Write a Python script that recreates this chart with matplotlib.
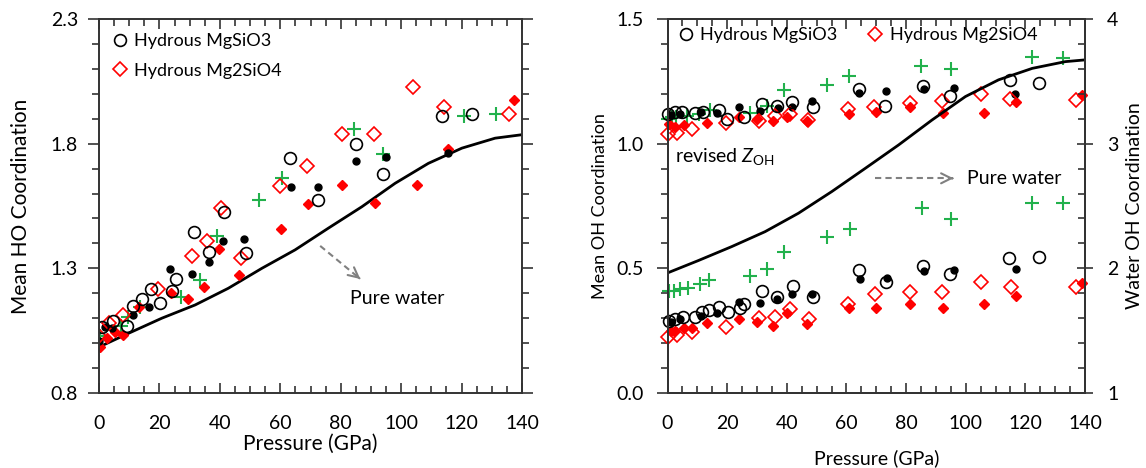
import matplotlib
matplotlib.use("Agg")
import matplotlib.pyplot as plt
from matplotlib.ticker import MultipleLocator, FixedLocator, FormatStrFormatter
from matplotlib.lines import Line2D
import numpy as np

plt.rcParams['font.family'] = ['Lato', 'DejaVu Sans']
plt.rcParams['mathtext.fontset'] = 'custom'
plt.rcParams['mathtext.rm'] = 'Lato'
plt.rcParams['mathtext.it'] = 'Lato:italic'

GREEN = '#22b14c'
RED = '#ff0000'

# ---------------- left panel: mean HO coordination ----------------
ho_circ_open_x = [0.9, 4.7, 9.2, 11.4, 14.1, 17.2, 20.2, 24.0, 25.4, 31.3, 36.4, 41.4, 48.5, 63.2, 72.4, 85.0, 94.0, 113.6, 123.5]
ho_circ_open_y = [1.066, 1.090, 1.069, 1.148, 1.178, 1.219, 1.159, 1.211, 1.257, 1.447, 1.364, 1.525, 1.360, 1.742, 1.573, 1.797, 1.677, 1.911, 1.918]
ho_circ_fill_x = [0.0, 2.1, 4.3, 11.1, 16.6, 23.6, 30.7, 36.3, 41.1, 47.9, 63.7, 72.6, 85.1, 95.0, 115.4]
ho_circ_fill_y = [1.010, 1.063, 1.061, 1.113, 1.144, 1.296, 1.278, 1.327, 1.411, 1.416, 1.628, 1.628, 1.731, 1.747, 1.761]
ho_diam_open_x = [0.0, 3.3, 8.0, 19.6, 30.7, 35.6, 40.4, 46.9, 59.9, 69.0, 80.5, 91.0, 104.0, 114.2, 135.8]
ho_diam_open_y = [1.030, 1.080, 1.113, 1.219, 1.351, 1.410, 1.540, 1.343, 1.630, 1.710, 1.840, 1.840, 2.026, 1.948, 1.918]
ho_diam_fill_x = [0.3, 2.5, 5.3, 7.9, 13.1, 23.9, 29.6, 34.9, 39.8, 46.4, 60.1, 69.2, 80.5, 91.4, 105.2, 115.5, 137.4]
ho_diam_fill_y = [0.986, 1.022, 1.045, 1.033, 1.145, 1.201, 1.178, 1.225, 1.378, 1.273, 1.458, 1.557, 1.636, 1.560, 1.636, 1.780, 1.974]
ho_plus_x = [0.3, 7.3, 9.7, 13.7, 27.1, 33.3, 39.0, 53.1, 60.6, 84.3, 94.1, 120.9, 131.4]
ho_plus_y = [1.030, 1.067, 1.106, 1.146, 1.186, 1.252, 1.430, 1.576, 1.661, 1.860, 1.758, 1.911, 1.919]
water_ho_x = [0.3, 9.7, 20.8, 31.8, 42.8, 53.9, 64.9, 75.9, 87.0, 98.0, 109.0, 120.1, 131.1, 139.4]
water_ho_y = [0.986, 1.039, 1.100, 1.153, 1.220, 1.300, 1.374, 1.461, 1.547, 1.641, 1.721, 1.782, 1.822, 1.835]
ho_ticks = [0.8, 1.3, 1.8, 2.3]

# ---------------- right panel: mean OH coordination ----------------
# revised Z_OH (upper group)
oh_rev_circ_open_x = [0.2, 2.5, 4.8, 9.2, 12.0, 17.1, 20.1, 25.7, 31.6, 36.7, 41.9, 48.9, 64.1, 73.0, 85.5, 94.8, 115.0, 124.5]
oh_rev_circ_open_y = [1.120, 1.128, 1.128, 1.124, 1.128, 1.135, 1.099, 1.108, 1.158, 1.151, 1.169, 1.149, 1.218, 1.152, 1.231, 1.193, 1.256, 1.245]
oh_rev_circ_fill_x = [1.0, 4.2, 11.1, 16.5, 23.8, 31.1, 37.0, 41.9, 48.4, 64.3, 73.2, 85.9, 96.2, 116.4]
oh_rev_circ_fill_y = [1.115, 1.120, 1.125, 1.124, 1.146, 1.132, 1.142, 1.146, 1.172, 1.202, 1.213, 1.219, 1.222, 1.198]
oh_rev_diam_open_x = [0.3, 3.1, 8.1, 19.5, 30.8, 35.9, 40.9, 47.1, 60.5, 69.4, 81.4, 92.0, 105.1, 115.0, 137.1]
oh_rev_diam_open_y = [1.038, 1.042, 1.058, 1.082, 1.091, 1.111, 1.118, 1.095, 1.138, 1.148, 1.162, 1.171, 1.198, 1.178, 1.175]
oh_rev_diam_fill_x = [0.6, 2.5, 5.5, 13.2, 24.0, 29.9, 35.3, 40.0, 46.7, 60.9, 69.9, 81.4, 92.4, 106.0, 116.7, 139.0]
oh_rev_diam_fill_y = [1.080, 1.068, 1.075, 1.082, 1.106, 1.098, 1.092, 1.106, 1.092, 1.118, 1.128, 1.146, 1.122, 1.122, 1.168, 1.195]
oh_rev_plus_x = [0.3, 1.5, 3.0, 6.4, 10.7, 14.3, 27.5, 33.3, 39.1, 53.4, 60.9, 85.1, 95.2, 122.2, 132.7]
oh_rev_plus_y = [1.100, 1.105, 1.108, 1.111, 1.119, 1.135, 1.124, 1.151, 1.215, 1.235, 1.273, 1.313, 1.300, 1.346, 1.342]

# original Z_OH (lower group)
oh_circ_open_x = [0.6, 2.5, 5.1, 9.2, 11.5, 14.0, 17.1, 20.4, 24.3, 25.7, 31.8, 36.7, 42.0, 48.9, 64.1, 73.2, 85.7, 94.8, 114.6, 124.5]
oh_circ_open_y = [0.290, 0.297, 0.306, 0.304, 0.324, 0.333, 0.344, 0.324, 0.340, 0.356, 0.410, 0.386, 0.430, 0.384, 0.493, 0.447, 0.509, 0.477, 0.543, 0.544]
oh_circ_fill_x = [1.2, 4.2, 11.1, 16.7, 23.8, 31.1, 36.7, 41.7, 48.4, 64.4, 73.5, 86.0, 95.9, 116.7]
oh_circ_fill_y = [0.285, 0.297, 0.310, 0.322, 0.366, 0.360, 0.376, 0.397, 0.397, 0.457, 0.460, 0.491, 0.493, 0.497]
oh_diam_open_x = [0.3, 3.1, 8.1, 19.6, 30.8, 35.9, 40.9, 47.3, 60.5, 69.7, 81.4, 92.0, 105.1, 115.2, 137.1]
oh_diam_open_y = [0.226, 0.233, 0.243, 0.266, 0.300, 0.306, 0.336, 0.297, 0.356, 0.396, 0.406, 0.406, 0.447, 0.426, 0.424]
oh_diam_fill_x = [1.0, 2.5, 5.5, 8.1, 13.2, 24.0, 29.9, 35.2, 40.0, 46.7, 60.9, 70.0, 81.4, 92.4, 106.0, 117.0, 139.0]
oh_diam_fill_y = [0.250, 0.250, 0.260, 0.260, 0.280, 0.297, 0.286, 0.269, 0.322, 0.277, 0.342, 0.342, 0.357, 0.342, 0.357, 0.389, 0.440]
oh_plus_x = [0.6, 2.0, 4.2, 6.7, 10.9, 14.0, 27.5, 33.5, 39.2, 53.4, 61.3, 85.3, 95.2, 122.2, 132.7]
oh_plus_y = [0.410, 0.410, 0.416, 0.420, 0.437, 0.453, 0.469, 0.496, 0.567, 0.627, 0.658, 0.741, 0.698, 0.761, 0.763]

# pure water OH coordination (right-hand axis)
water_oh_x = [0.3, 10.3, 21.5, 32.7, 43.9, 55.1, 66.3, 77.5, 88.7, 99.9, 111.0, 122.3, 133.4, 140.0]
water_oh_y = [1.966, 2.062, 2.174, 2.294, 2.442, 2.616, 2.802, 2.990, 3.190, 3.378, 3.512, 3.604, 3.658, 3.672]

legend_labels = ['Hydrous MgSiO3', 'Hydrous Mg2SiO4']

FS = 14
LFS = 15
INK = '#333333'
open_circ = dict(ls='none', marker='o', ms=8.5, mfc='none', mec='black', mew=1.2)
fill_circ = dict(ls='none', marker='o', ms=5, mfc='black', mec='black')
open_diam = dict(ls='none', marker='D', ms=7, mfc='none', mec=RED, mew=1.2)
fill_diam = dict(ls='none', marker='D', ms=4.8, mfc=RED, mec=RED)
plus = dict(ls='none', marker='+', ms=10, mec=GREEN, mew=1.5)


def style_axes(ax):
    for s in ax.spines.values():
        s.set_linewidth(1.4)
        s.set_color(INK)
    ax.set_xlim(0, 140)
    ax.xaxis.set_major_locator(MultipleLocator(20))
    ax.xaxis.set_minor_locator(MultipleLocator(5))
    ax.tick_params(axis='x', which='both', direction='in', top=True, labelsize=FS, pad=16, color=INK, width=1.2)
    ax.tick_params(axis='x', which='major', length=7)
    ax.tick_params(axis='x', which='minor', length=5)
    ax.tick_params(axis='y', which='both', direction='out', labelsize=FS, color=INK, width=1.2, pad=7)
    ax.tick_params(axis='y', which='major', length=8)
    ax.tick_params(axis='y', which='minor', length=5)


fig = plt.figure(figsize=(11.46, 4.68), dpi=100)
axL = fig.add_axes([0.0864, 0.1603, 0.3691, 0.7991])
axR = fig.add_axes([0.5825, 0.1603, 0.3643, 0.7991])

# left panel
style_axes(axL)
axL.set_ylim(0.8, 2.3)
axL.yaxis.set_major_locator(FixedLocator(ho_ticks))
axL.yaxis.set_minor_locator(FixedLocator(np.arange(0.8, 2.31, 0.1)))
axL.yaxis.set_major_formatter(FormatStrFormatter('%.1f'))
axL.tick_params(axis='y', which='both', right=True)
axL.set_ylabel('Mean HO Coordination', fontsize=LFS, labelpad=14)
axL.set_xlabel('Pressure (GPa)', fontsize=LFS, labelpad=1)

axL.plot(water_ho_x, water_ho_y, color='black', lw=2)
axL.plot(ho_plus_x, ho_plus_y, **plus)
axL.plot(ho_diam_fill_x, ho_diam_fill_y, **fill_diam)
axL.plot(ho_circ_fill_x, ho_circ_fill_y, **fill_circ)
axL.plot(ho_diam_open_x, ho_diam_open_y, **open_diam)
axL.plot(ho_circ_open_x, ho_circ_open_y, **open_circ)

axL.plot([73.2, 86.0], [1.390, 1.262], color='#808080', lw=1.5, ls=(0, (3, 2)))
axL.annotate('', xy=(87.2, 1.250), xytext=(85.5, 1.267),
             arrowprops=dict(arrowstyle='->', color='#808080', lw=1.5, mutation_scale=18))
axL.text(83.1, 1.18, 'Pure water', fontsize=FS, va='center', ha='left')

handles = [Line2D([], [], **open_circ), Line2D([], [], **open_diam)]
axL.legend(handles, legend_labels, loc='upper left',
           bbox_to_anchor=(0.028, 0.962), borderaxespad=0, borderpad=0,
           frameon=False, fontsize=13, handlelength=1.0, handletextpad=0.3,
           labelspacing=0.75)

# right panel
style_axes(axR)
axR.set_ylim(0.0, 1.5)
axR.yaxis.set_major_locator(MultipleLocator(0.5))
axR.yaxis.set_minor_locator(MultipleLocator(0.1))
axR.yaxis.set_major_formatter(FormatStrFormatter('%.1f'))
axR.tick_params(axis='y', which='both', right=False, pad=9)
axR.set_ylabel('Mean OH Coordination', fontsize=13, labelpad=6)
axR.set_xlabel('Pressure (GPa)', fontsize=14, labelpad=12)

for xs, ys, kw in [
    (oh_rev_plus_x, oh_rev_plus_y, plus), (oh_plus_x, oh_plus_y, plus),
    (oh_rev_diam_fill_x, oh_rev_diam_fill_y, fill_diam), (oh_diam_fill_x, oh_diam_fill_y, fill_diam),
    (oh_rev_circ_fill_x, oh_rev_circ_fill_y, fill_circ), (oh_circ_fill_x, oh_circ_fill_y, fill_circ),
    (oh_rev_diam_open_x, oh_rev_diam_open_y, open_diam), (oh_diam_open_x, oh_diam_open_y, open_diam),
    (oh_rev_circ_open_x, oh_rev_circ_open_y, open_circ), (oh_circ_open_x, oh_circ_open_y, open_circ),
]:
    axR.plot(xs, ys, clip_on=False, **kw)

axR.text(2.5, 0.95, r'revised $Z_{\mathrm{OH}}$', fontsize=FS, va='center', ha='left')
axR.plot([69.7, 95.0], [0.861, 0.861], color='#808080', lw=1.5, ls=(0, (3, 2)))
axR.annotate('', xy=(96.8, 0.861), xytext=(94.5, 0.861),
             arrowprops=dict(arrowstyle='->', color='#808080', lw=1.5, mutation_scale=18))
axR.text(100.4, 0.861, 'Pure water', fontsize=FS, va='center', ha='left')

axR.legend(handles, legend_labels, loc='upper left',
           bbox_to_anchor=(0.022, 0.978), borderaxespad=0, borderpad=0,
           frameon=False, fontsize=13, handlelength=1.0, handletextpad=0.3,
           ncol=2, columnspacing=1.6)

axW = axR.twinx()
axW.set_ylim(1, 4)
axW.yaxis.set_major_locator(MultipleLocator(1))
axW.yaxis.set_minor_locator(MultipleLocator(0.2))
axW.tick_params(axis='y', which='major', direction='inout', length=12, width=1.2,
                labelsize=FS, color=INK, pad=10)
axW.tick_params(axis='y', which='minor', direction='in', length=5, width=1.2, color=INK)
for s in axW.spines.values():
    s.set_linewidth(1.4)
    s.set_color(INK)
axW.set_ylabel('Water OH Coordination', fontsize=14, labelpad=5)
axW.plot(water_oh_x, water_oh_y, color='black', lw=2)

fig.savefig('out.png', dpi=100)
